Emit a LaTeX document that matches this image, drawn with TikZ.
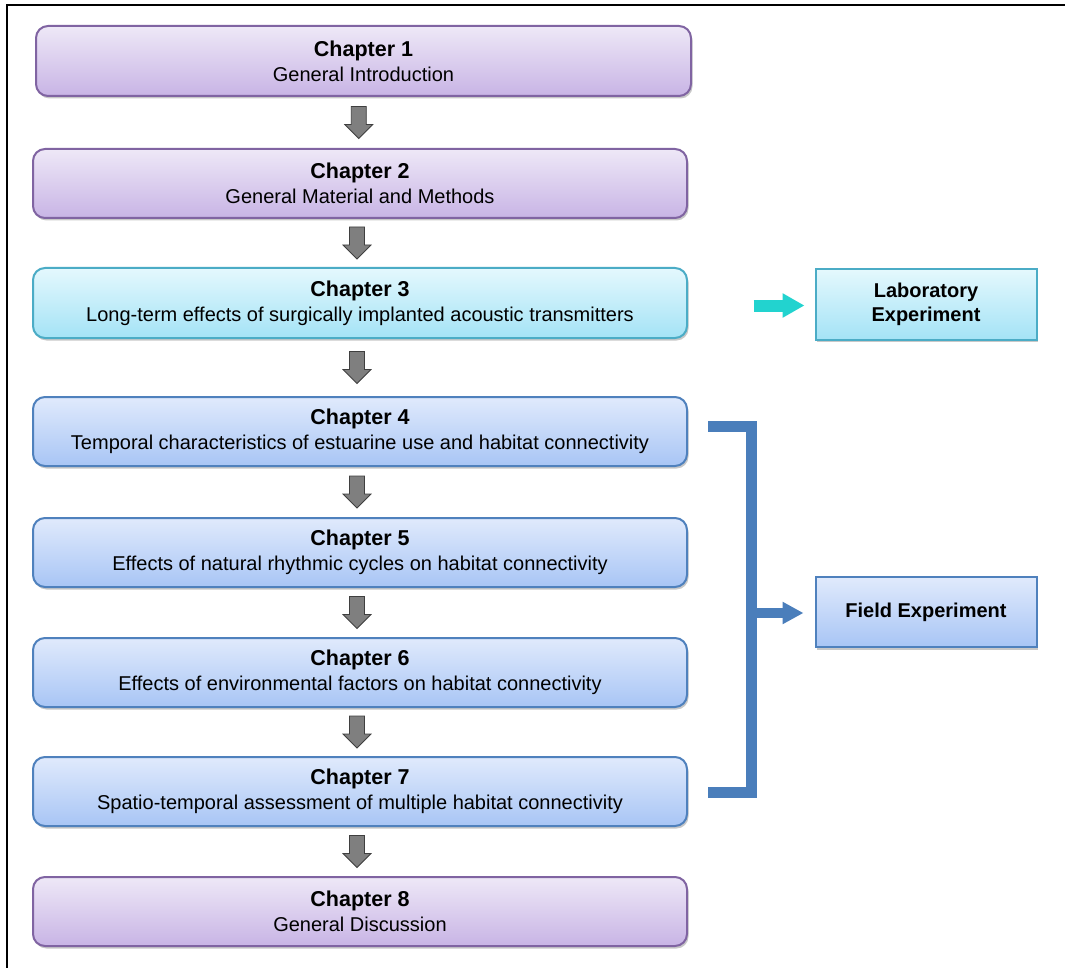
\documentclass[tikz,border=0pt]{standalone}
\usepackage{fontspec}
\setmainfont{Liberation Sans}
\usetikzlibrary{calc,shadows,arrows.meta}
\definecolor{purpB}{HTML}{8064A2}
\definecolor{purpT}{HTML}{EEE8F7}
\definecolor{purpBot}{HTML}{C8B4E5}
\definecolor{cyanB}{HTML}{4BACC6}
\definecolor{cyanT}{HTML}{E4F8FD}
\definecolor{cyanBot}{HTML}{A4E3F6}
\definecolor{blueB}{HTML}{4F81BD}
\definecolor{blueT}{HTML}{E0EAFC}
\definecolor{blueBot}{HTML}{A8C5F5}
\definecolor{brk}{HTML}{4A7EBB}
\definecolor{teal}{HTML}{22D3CF}
\definecolor{agray}{HTML}{7F7F7F}
\definecolor{agrayB}{HTML}{3F3F3F}
\newcommand{\chtitle}[1]{{\fontsize{21.5}{25}\selectfont\bfseries #1}}
\tikzset{
  chapbox/.style={rounded corners=12pt, line width=2pt, minimum width=654pt, minimum height=69pt,
    inner sep=0pt, align=center, font=\fontsize{20}{25}\selectfont,
    drop shadow={shadow xshift=1.5pt, shadow yshift=-2.5pt, opacity=0.3, fill=black!70}},
  purplebox/.style={chapbox, draw=purpB, top color=purpT, bottom color=purpBot},
  cyanbox/.style={chapbox, draw=cyanB, top color=cyanT, bottom color=cyanBot},
  bluebox/.style={chapbox, draw=blueB, top color=blueT, bottom color=blueBot},
  expbox/.style={line width=2pt, minimum width=221pt, minimum height=70pt, inner sep=0pt,
    align=center, font=\fontsize{20}{24}\selectfont\bfseries,
    drop shadow={shadow xshift=1.5pt, shadow yshift=-2.5pt, opacity=0.3, fill=black!70}},
  downarrow/.style={fill=agray, draw=agrayB, line width=0.8pt, line join=miter},
  bracketline/.style={draw=brk, line width=11pt, line join=miter},
  bracketarrow/.style={draw=brk, line width=10pt, -{Triangle[length=21pt,width=21pt]}},
  tealarrow/.style={draw=teal, line width=12pt, -{Triangle[length=22pt,width=23pt]}},
  framestyle/.style={draw=black, line width=2pt}
}
\newcommand{\blockdown}[2]{%
  \coordinate (m#1#2) at ($($(#1.south)!0.5!(#2.north)$)+(-3,0)$);
  \draw[downarrow] (m#1#2) ++(-7.5,-16) -- ++(15,0) -- ++(0,18) -- ++(6.5,0) -- ++(-14,14) -- ++(-14,-14) -- ++(6.5,0) -- cycle;
}
\begin{document}
\begin{tikzpicture}[x=1pt,y=-1pt]
\useasboundingbox (0,0) rectangle (1065,968);
\fill[white] (0,0) rectangle (1065,968);
\draw[framestyle] (1065,5.5) -- (6.5,5.5) -- (6.5,968);

\node[purplebox, minimum width=655pt, minimum height=70pt] (c1) at (363.5,61) {\chtitle{Chapter 1}\\General Introduction};
\node[purplebox] (c2) at (360,183.5) {\chtitle{Chapter 2}\\General Material and Methods};
\node[cyanbox, minimum height=70pt] (c3) at (360,303) {\chtitle{Chapter 3}\\Long-term effects of surgically implanted acoustic transmitters};
\node[bluebox] (c4) at (360,431.5) {\chtitle{Chapter 4}\\Temporal characteristics of estuarine use and habitat connectivity};
\node[bluebox] (c5) at (360,552.5) {\chtitle{Chapter 5}\\Effects of natural rhythmic cycles on habitat connectivity};
\node[bluebox] (c6) at (360,672.5) {\chtitle{Chapter 6}\\Effects of environmental factors on habitat connectivity};
\node[bluebox] (c7) at (360,791.5) {\chtitle{Chapter 7}\\Spatio-temporal assessment of multiple habitat connectivity};
\node[purplebox] (c8) at (360,911.5) {\chtitle{Chapter 8}\\General Discussion};

\node[expbox, draw=cyanB, top color=cyanT, bottom color=cyanBot] (lab) at (926,304.5) {Laboratory\\Experiment};
\node[expbox, draw=blueB, top color=blueT, bottom color=blueBot] (field) at (926,612) {Field Experiment};

\blockdown{c1}{c2}
\blockdown{c2}{c3}
\blockdown{c3}{c4}
\blockdown{c4}{c5}
\blockdown{c5}{c6}
\blockdown{c6}{c7}
\blockdown{c7}{c8}

\coordinate (labstart) at ($(lab.west)+(-61,1)$);
\draw[tealarrow] (labstart) -- ($(lab.west)+(-10,1)$);

\coordinate (b4) at ($(c4.east)+(20,-5)$);
\coordinate (b7) at ($(c7.east)+(20,1)$);
\coordinate (bt) at (751.5,426.5);
\coordinate (bb) at (751.5,792.5);
\draw[bracketline] (b4) -- (bt) -- (bb) -- (b7);
\coordinate (fend) at ($(field.west)+(-11,1)$);
\coordinate (bmid) at (bt |- fend);
\draw[bracketarrow] (bmid) -- (fend);
\end{tikzpicture}
\end{document}
